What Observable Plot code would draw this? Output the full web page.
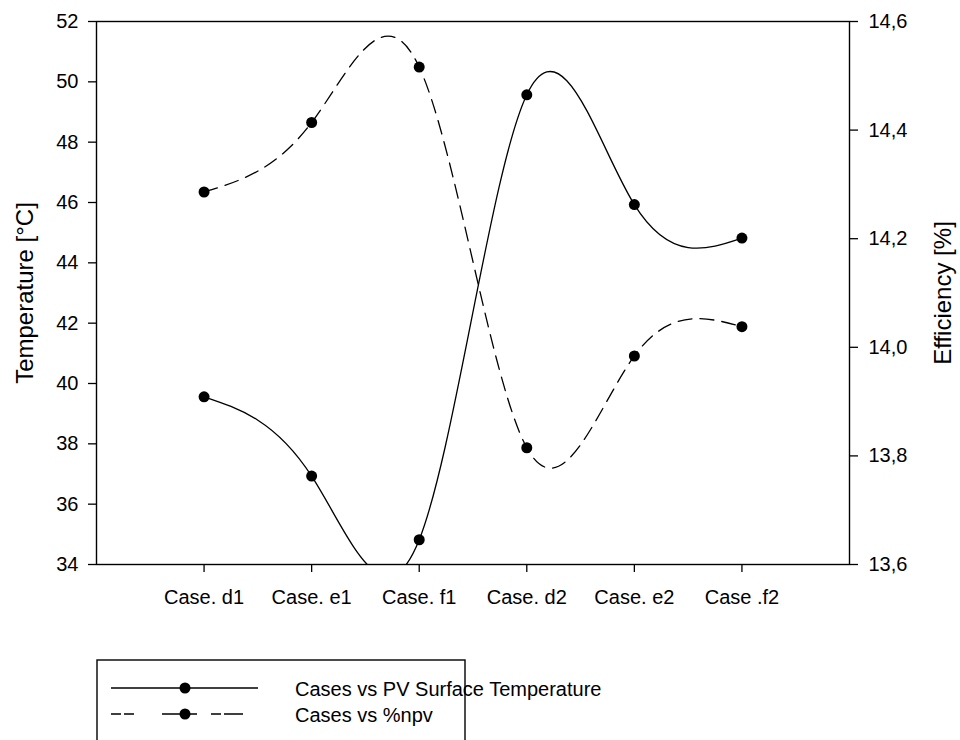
<!DOCTYPE html>
<html>
<head>
<meta charset="utf-8">
<script src="https://cdn.jsdelivr.net/npm/d3@7"></script>
<script src="https://cdn.jsdelivr.net/npm/@observablehq/plot@0.6"></script>
<style>
  html, body { margin: 0; padding: 0; background: #fff; overflow: hidden; }
  body { width: 960px; height: 740px; position: relative; font-family: "Liberation Sans", Arial, sans-serif; }
  #chart { position: absolute; left: 0; top: 0; }
  #legend { position: absolute; left: 0; top: 0; pointer-events: none; }
</style>
</head>
<body>
<div id="chart"></div>
<svg id="legend" width="960" height="740"></svg>
<script>
// Cases on the x axis
const cases = ["Case. d1", "Case. e1", "Case. f1", "Case. d2", "Case. e2", "Case .f2"];
// PV surface temperature [°C] (left axis)
const temperature = [39.56, 36.93, 34.82, 49.57, 45.93, 44.82];
// Efficiency %npv [%] (right axis)
const efficiency = [14.286, 14.414, 14.516, 13.815, 13.984, 14.038];
// Axis tick values
const tempTicks = [34, 36, 38, 40, 42, 44, 46, 48, 50, 52];
const effTicks = [13.6, 13.8, 14.0, 14.2, 14.4, 14.6];
const seriesNames = ["Cases vs PV Surface Temperature", "Cases vs %npv"];

// Right-axis values are placed on the temperature scale through a linear map
const tempDomain = [34, 52];
const effDomain = [13.6, 14.6];
const k = (tempDomain[1] - tempDomain[0]) / (effDomain[1] - effDomain[0]);
const effToTemp = (e) => tempDomain[0] + (e - effDomain[0]) * k;
const tempToEff = (t) => effDomain[0] + (t - tempDomain[0]) / k;
const commaFmt = (v) => v.toFixed(1).replace(".", ",");

const idx = d3.range(cases.length);
const font = "Liberation Sans, Arial, sans-serif";

const chart = Plot.plot({
  width: 960,
  height: 640,
  marginTop: 21,
  marginBottom: 76,
  marginLeft: 96,
  marginRight: 111,
  style: { fontFamily: font, background: "#fff", color: "#000" },
  x: { domain: [-1, cases.length] },
  y: { domain: tempDomain },
  marks: [
    Plot.frame({ stroke: "#000", strokeWidth: 1.4 }),
    Plot.axisY(tempTicks, {
      anchor: "left", tickSize: 8, tickPadding: 10, fontSize: 20,
      strokeWidth: 1.3, label: null, tickFormat: (d) => String(d)
    }),
    Plot.axisY(effTicks.map(effToTemp), {
      anchor: "right", tickSize: 8, tickPadding: 11, fontSize: 20,
      strokeWidth: 1.3, label: null, tickFormat: (d) => commaFmt(tempToEff(d))
    }),
    Plot.axisX(idx, {
      anchor: "bottom", tickSize: 8, tickPadding: 17, fontSize: 20,
      strokeWidth: 1.3, label: null, tickFormat: (i) => cases[i]
    }),
    // temperature series: smooth spline, clipped to the frame
    Plot.line(idx, {
      x: (i) => i, y: (i) => temperature[i],
      curve: "natural", stroke: "#000", strokeWidth: 1.3, clip: true
    }),
    // efficiency series: dashed spline
    Plot.line(idx, {
      x: (i) => i, y: (i) => effToTemp(efficiency[i]),
      curve: "natural", stroke: "#000", strokeWidth: 1.3,
      strokeDasharray: "14,8", clip: true
    }),
    Plot.dot(idx, { x: (i) => i, y: (i) => temperature[i], r: 5.5, fill: "#000" }),
    Plot.dot(idx, { x: (i) => i, y: (i) => effToTemp(efficiency[i]), r: 5.5, fill: "#000" }),
    // axis titles
    Plot.text(["Temperature [°C]"], {
      frameAnchor: "left", text: (d) => d, rotate: -90, dx: -71,
      lineAnchor: "middle", textAnchor: "middle", fontSize: 24, fill: "#000"
    }),
    Plot.text(["Efficiency [%]"], {
      frameAnchor: "right", text: (d) => d, rotate: -90, dx: 94,
      lineAnchor: "middle", textAnchor: "middle", fontSize: 24, fill: "#000"
    })
  ]
});
document.getElementById("chart").appendChild(chart);

// Legend box below the chart
const lg = d3.select("#legend");
lg.append("rect")
  .attr("x", 97).attr("y", 660).attr("width", 368).attr("height", 120)
  .attr("fill", "none").attr("stroke", "#000").attr("stroke-width", 1.4);

const rows = [
  { y: 688, dash: null, x2: 258 },
  { y: 714, dash: "10,3,10,28,35,14,10,3,19", x2: 243 }
];
rows.forEach((r, j) => {
  lg.append("line")
    .attr("x1", 111).attr("x2", r.x2).attr("y1", r.y).attr("y2", r.y)
    .attr("stroke", "#000").attr("stroke-width", 1.3)
    .attr("stroke-dasharray", r.dash);
  lg.append("circle").attr("cx", 185).attr("cy", r.y).attr("r", 5.5).attr("fill", "#000");
  lg.append("text")
    .attr("x", 295).attr("y", r.y + 8)
    .attr("font-family", font).attr("font-size", 20).attr("fill", "#000")
    .text(seriesNames[j]);
});
</script>
</body>
</html>
